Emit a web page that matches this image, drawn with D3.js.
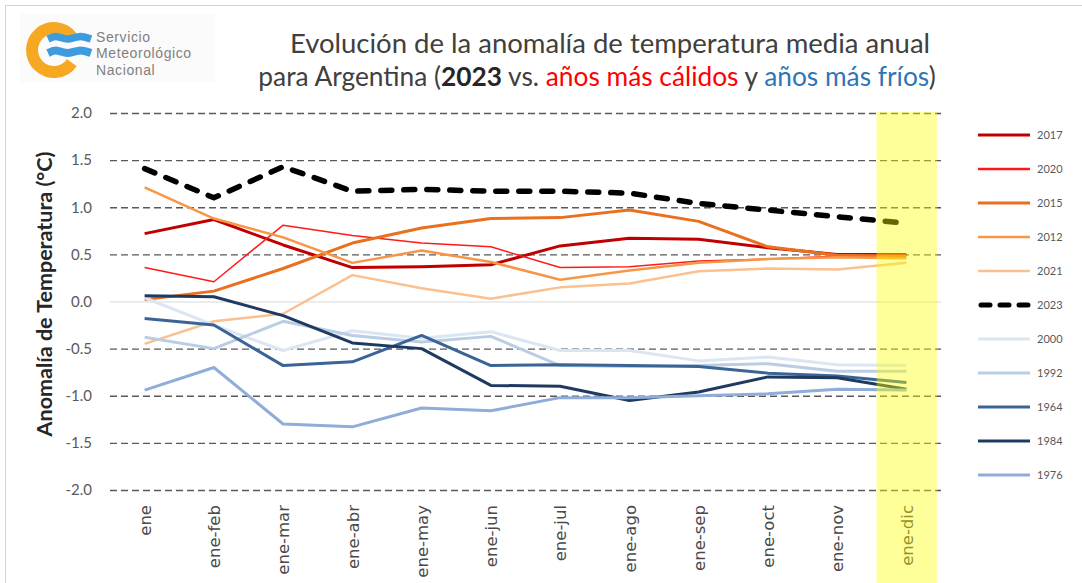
<!DOCTYPE html>
<html>
<head>
<meta charset="utf-8">
<script src="https://cdn.jsdelivr.net/npm/d3@7"></script>
<style>
  body { margin: 0; background: #fff; }
  svg { display: block; }
</style>
</head>
<body>
<div id="container"></div>
<script>
/* DATA */
const months = ["ene", "ene-feb", "ene-mar", "ene-abr", "ene-may", "ene-jun",
  "ene-jul", "ene-ago", "ene-sep", "ene-oct", "ene-nov", "ene-dic"];

const y2017 = [0.72, 0.87, 0.60, 0.36, 0.37, 0.39, 0.59, 0.67, 0.66, 0.57, 0.50, 0.50];
const y2020 = [0.36, 0.21, 0.81, 0.70, 0.62, 0.58, 0.36, 0.37, 0.43, 0.45, 0.48, 0.49];
const y2015 = [0.02, 0.11, 0.35, 0.62, 0.78, 0.88, 0.89, 0.97, 0.85, 0.58, 0.49, 0.48];
const y2012 = [1.21, 0.88, 0.68, 0.41, 0.54, 0.42, 0.23, 0.33, 0.41, 0.45, 0.47, 0.46];
const y2021 = [-0.45, -0.21, -0.13, 0.28, 0.14, 0.03, 0.15, 0.19, 0.32, 0.35, 0.34, 0.41];
const y2023 = [1.41, 1.10, 1.43, 1.17, 1.19, 1.17, 1.17, 1.15, 1.04, 0.97, 0.90, 0.83];
const y2000 = [0.04, -0.25, -0.52, -0.31, -0.39, -0.32, -0.52, -0.52, -0.63, -0.59, -0.67, -0.68];
const y1992 = [-0.38, -0.50, -0.21, -0.36, -0.43, -0.37, -0.68, -0.69, -0.68, -0.66, -0.74, -0.74];
const y1964 = [-0.18, -0.25, -0.68, -0.64, -0.36, -0.68, -0.67, -0.68, -0.69, -0.76, -0.79, -0.86];
const y1984 = [0.06, 0.05, -0.15, -0.44, -0.50, -0.89, -0.90, -1.05, -0.96, -0.80, -0.81, -0.93];
const y1976 = [-0.94, -0.70, -1.30, -1.33, -1.13, -1.16, -1.02, -1.02, -1.00, -0.98, -0.93, -0.94];

const yTicks = [2.0, 1.5, 1.0, 0.5, 0.0, -0.5, -1.0, -1.5, -2.0];

// series in legend order, with their styles
const series = [
  { name: "2017", values: y2017, color: "#c00000", w: 3 },
  { name: "2020", values: y2020, color: "#ff1a1a", w: 1.5 },
  { name: "2015", values: y2015, color: "#e8701e", w: 3 },
  { name: "2012", values: y2012, color: "#f79646", w: 2.5 },
  { name: "2021", values: y2021, color: "#fac090", w: 2.5 },
  { name: "2023", values: y2023, color: "#000000", w: 5.5, dash: true },
  { name: "2000", values: y2000, color: "#dce6f2", w: 3 },
  { name: "1992", values: y1992, color: "#b9cde5", w: 3 },
  { name: "1964", values: y1964, color: "#3a6496", w: 3 },
  { name: "1984", values: y1984, color: "#1f3a60", w: 3 },
  { name: "1976", values: y1976, color: "#8fadd8", w: 3 }
];

/* LAYOUT */
const width = 1082,
  height = 583,
  margin = { top: 113, bottom: 93, left: 110, right: 141 };

const svg = d3.select("#container")
  .append("svg")
  .attr("width", width)
  .attr("height", height);

// outer frame
svg.append("rect")
  .attr("x", 5.5).attr("y", 5.5)
  .attr("width", width).attr("height", height)
  .attr("fill", "none")
  .attr("stroke", "#d4d4d4");

/* SCALES */
const xScale = d3.scalePoint()
  .domain(months)
  .range([margin.left, width - margin.right])
  .padding(0.5);

const yScale = d3.scaleLinear()
  .domain([-2, 2])
  .range([height - margin.bottom, margin.top]);

/* GRIDLINES + Y AXIS */
const yAxis = d3.axisLeft(yScale)
  .tickValues(yTicks)
  .tickFormat(d => d.toFixed(1))
  .tickSize(-(width - margin.left - margin.right))
  .tickPadding(18);

const yG = svg.append("g")
  .attr("transform", `translate(${margin.left}, 0)`)
  .call(yAxis);

yG.select(".domain").remove();
yG.selectAll(".tick line")
  .attr("stroke", d => d === 0 ? "#d9d9d9" : "#595959")
  .attr("stroke-width", d => d === 0 ? 1 : 1.3)
  .attr("stroke-dasharray", d => d === 0 ? null : "7,4");
yG.selectAll(".tick text")
  .attr("fill", "#595959")
  .style("font-family", "Lato, 'Open Sans', sans-serif")
  .style("font-size", "15px");

svg.append("text")
  .attr("transform", `translate(52, 294) rotate(-90)`)
  .attr("text-anchor", "middle")
  .attr("fill", "#262626")
  .style("font-family", "Lato, 'Open Sans', sans-serif")
  .style("font-weight", "bold")
  .style("font-size", "21.5px")
  .text("Anomalía de Temperatura (°C)");

/* X AXIS LABELS */
const xAxis = d3.axisBottom(xScale).tickSize(0).tickPadding(0);
const xG = svg.append("g")
  .attr("transform", `translate(0, ${height - margin.bottom})`)
  .call(xAxis);
xG.select(".domain").remove();
xG.selectAll(".tick text")
  .attr("transform", "rotate(-90)")
  .attr("text-anchor", "end")
  .attr("x", -15)
  .attr("y", 0)
  .attr("dy", "0.35em")
  .attr("fill", "#4a4a4a")
  .style("font-family", "'DejaVu Sans', Verdana, sans-serif")
  .style("font-size", "16.5px");

/* LINES */
const lineFunction = d3.line()
  .x((d, i) => xScale(months[i]))
  .y(d => yScale(d));

svg.selectAll("path.line")
  .data(series)
  .join("path")
  .attr("class", "line")
  .attr("fill", "none")
  .attr("stroke", d => d.color)
  .attr("stroke-width", d => d.w)
  .attr("stroke-linejoin", "round")
  .attr("stroke-linecap", d => d.dash ? "round" : "butt")
  .attr("stroke-dasharray", d => d.dash ? "11,12" : null)
  .attr("d", d => lineFunction(d.values));

/* YELLOW HIGHLIGHT (on top, translucent) */
const step = xScale.step();
svg.append("rect")
  .attr("x", xScale("ene-dic") - step * 0.43)
  .attr("y", yScale(2) - 1)
  .attr("width", step * 0.87)
  .attr("height", height - yScale(2) + 1)
  .attr("fill", "#ffff00")
  .attr("opacity", 0.4);

/* LEGEND */
const legend = svg.append("g")
  .attr("transform", "translate(978, 135)");

const legendItem = legend.selectAll("g.item")
  .data(series)
  .join("g")
  .attr("class", "item")
  .attr("transform", (d, i) => `translate(0, ${i * 34})`);

legendItem.append("line")
  .attr("x1", d => d.dash ? 3 : 0)
  .attr("x2", 52)
  .attr("stroke", d => d.color)
  .attr("stroke-width", d => d.dash ? 5 : Math.max(d.w, 2.5))
  .attr("stroke-linecap", d => d.dash ? "round" : "butt")
  .attr("stroke-dasharray", d => d.dash ? "9,10" : null);

legendItem.append("text")
  .attr("x", 59)
  .attr("dy", "0.35em")
  .attr("fill", "#595959")
  .style("font-family", "Lato, 'Open Sans', sans-serif")
  .style("font-size", "11px")
  .text(d => d.name);

/* TITLE */
const title = svg.append("g")
  .style("font-family", "Lato, 'Open Sans', sans-serif")
  .attr("fill", "#404040");

title.append("text")
  .attr("x", 610)
  .attr("y", 53)
  .attr("text-anchor", "middle")
  .style("font-size", "27.5px")
  .text("Evolución de la anomalía de temperatura media anual");

const t2 = title.append("text")
  .attr("x", 597)
  .attr("y", 86)
  .attr("text-anchor", "middle")
  .style("font-size", "26.3px");
t2.append("tspan").text("para Argentina (");
t2.append("tspan").style("font-weight", "bold").attr("fill", "#262626").text("2023");
t2.append("tspan").text(" vs. ");
t2.append("tspan").attr("fill", "#ff0000").text("años más cálidos");
t2.append("tspan").text(" y ");
t2.append("tspan").attr("fill", "#2e75b6").text("años más fríos");
t2.append("tspan").text(")");

/* LOGO */
const logo = svg.append("g");
logo.append("rect")
  .attr("x", 20).attr("y", 14)
  .attr("width", 195).attr("height", 68)
  .attr("fill", "#fbfbfb");

const ringArc = d3.arc()
  .innerRadius(16)
  .outerRadius(28)
  .startAngle(Math.PI / 2 + 0.62)
  .endAngle(Math.PI / 2 + 2 * Math.PI - 0.62);

logo.append("path")
  .attr("transform", "translate(54, 50)")
  .attr("d", ringArc())
  .attr("fill", "#f7a823");

const wave = d3.line().curve(d3.curveBasis);
[[38, 7.5], [52, 8]].forEach(([cy, w]) => {
  logo.append("path")
    .attr("d", wave([[48, cy + 1], [57, cy - 3], [67, cy + 3], [79, cy - 3], [91, cy + 1]]))
    .attr("fill", "none")
    .attr("stroke", "#3d9be0")
    .attr("stroke-width", w);
});

["Servicio", "Meteorológico", "Nacional"].forEach((s, i) => {
  logo.append("text")
    .attr("x", 96)
    .attr("y", 42 + i * 16.4)
    .attr("fill", "#808080")
    .style("font-family", "'Liberation Sans', Arial, sans-serif")
    .style("font-size", "14px")
    .style("letter-spacing", "0.6px")
    .text(s);
});
</script>
</body>
</html>
